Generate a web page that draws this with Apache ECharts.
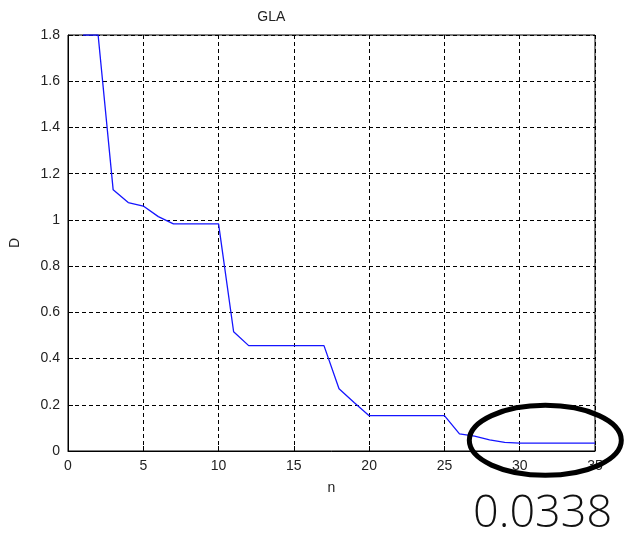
<!DOCTYPE html>
<html>
<head>
<meta charset="utf-8">
<script src="https://cdn.jsdelivr.net/npm/echarts@6/dist/echarts.min.js"></script>
<style>
  html, body { margin: 0; padding: 0; background: #fff; }
  #chart { width: 625px; height: 538px; }
</style>
</head>
<body>
<div id="chart"></div>
<script>
// GLA distortion D against codebook step n
const nValues = [1, 2, 3, 4, 5, 6, 7, 8, 9, 10, 11, 12, 13, 14, 15, 16, 17, 18, 19, 20,
                 21, 22, 23, 24, 25, 26, 27, 28, 29, 30, 31, 32, 33, 34, 35];
const dValues = [1.8, 1.8, 1.13, 1.075, 1.06, 1.014, 0.983, 0.983, 0.983, 0.983,
                 0.516, 0.456, 0.456, 0.456, 0.456, 0.456, 0.456, 0.269, 0.21, 0.153,
                 0.153, 0.153, 0.153, 0.153, 0.153, 0.074, 0.064, 0.048, 0.037, 0.0338,
                 0.0338, 0.0338, 0.0338, 0.0338, 0.0338];
const xTicks = [0, 5, 10, 15, 20, 25, 30, 35];
const yTicks = [0, 0.2, 0.4, 0.6, 0.8, 1, 1.2, 1.4, 1.6, 1.8];
const chartTitle = 'GLA';
const xName = 'n';
const yName = 'D';

const FONT = '"Liberation Sans", Arial, sans-serif';
const gridLine = { show: true, lineStyle: { color: '#000', width: 1, type: [4, 3] } };

const chart = echarts.init(document.getElementById('chart'), null, { renderer: 'canvas' });

chart.setOption({
  animation: false,
  backgroundColor: '#fff',
  grid: { left: 65, right: 30, top: 35, bottom: 87, show: true, borderColor: '#000', borderWidth: 1 },
  xAxis: {
    type: 'value',
    min: xTicks[0], max: xTicks[xTicks.length - 1], interval: xTicks[1] - xTicks[0],
    name: xName, nameLocation: 'middle', nameGap: 30,
    nameTextStyle: { fontFamily: FONT, fontSize: 14, color: '#222' },
    axisLine: { lineStyle: { color: '#000', width: 1 } },
    axisTick: { inside: true, length: 5, lineStyle: { color: '#000' } },
    axisLabel: { fontFamily: FONT, fontSize: 14, color: '#222', margin: 8 },
    splitLine: gridLine
  },
  yAxis: {
    type: 'value',
    min: yTicks[0], max: yTicks[yTicks.length - 1], interval: 0.2,
    name: yName, nameLocation: 'middle', nameGap: 46,
    nameTextStyle: { fontFamily: FONT, fontSize: 14, color: '#222' },
    axisLine: { show: true, lineStyle: { color: '#000', width: 1 } },
    axisTick: { show: true, inside: true, length: 5, lineStyle: { color: '#000' } },
    axisLabel: { fontFamily: FONT, fontSize: 14, color: '#222', margin: 8 },
    splitLine: gridLine
  },
  series: [{
    type: 'line',
    data: nValues.map((n, i) => [n, dValues[i]]),
    showSymbol: false,
    clip: true,
    lineStyle: { color: '#1515ff', width: 1.3 }
  }]
});

// Title, highlight ring around the converged tail, and the final value
const finalValue = dValues[dValues.length - 1];
const ringCenter = chart.convertToPixel({ gridIndex: 0 }, [31.7, 0.046]);
const titleX = chart.convertToPixel({ gridIndex: 0 }, [13.5, 0])[0];

chart.setOption({
  graphic: [
    {
      type: 'text', x: titleX, y: 17,
      style: { text: chartTitle, font: '14px ' + FONT, fill: '#222', align: 'center', verticalAlign: 'middle' }
    },
    {
      type: 'ellipse', z: 100,
      shape: { cx: ringCenter[0], cy: ringCenter[1], rx: 76, ry: 35 },
      style: { fill: 'none', stroke: '#000', lineWidth: 5 }
    },
    {
      type: 'text', x: 473, y: 514, z: 100,
      style: { text: String(finalValue), font: '300 45px "Open Sans", sans-serif', fill: '#111',
               align: 'left', verticalAlign: 'middle' }
    }
  ]
});
</script>
</body>
</html>
